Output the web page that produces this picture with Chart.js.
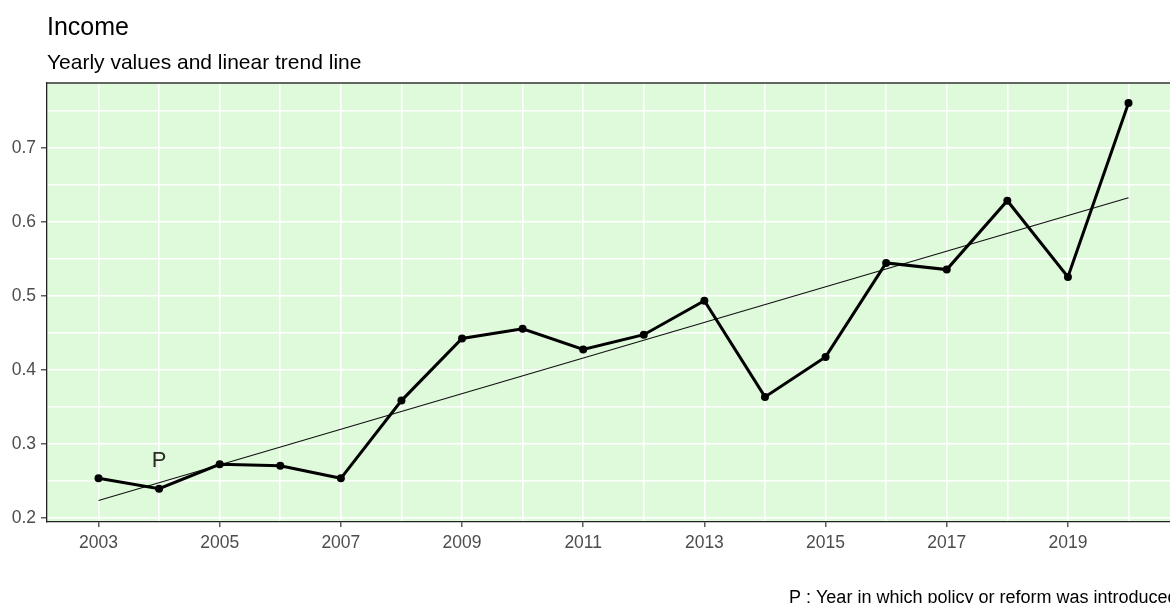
<!DOCTYPE html>
<html>
<head>
<meta charset="utf-8">
<script src="https://cdn.jsdelivr.net/npm/chart.js"></script>
<style>
  html, body { margin: 0; padding: 0; background: #fff; overflow: hidden; }
  #wrap { width: 1170px; height: 603px; overflow: hidden; position: relative; }
  #wrap canvas { position: absolute; left: 0; top: 0; }
</style>
</head>
<body>
<div id="wrap"><canvas id="income-chart" width="1184" height="612"></canvas></div>
<script>
// yearly income values
const years = [2003, 2004, 2005, 2006, 2007, 2008, 2009, 2010, 2011, 2012, 2013, 2014, 2015, 2016, 2017, 2018, 2019, 2020];
const income = [0.254, 0.240, 0.273, 0.271, 0.254, 0.359, 0.443, 0.456, 0.428, 0.448, 0.494, 0.364, 0.418, 0.545, 0.536, 0.629, 0.526, 0.761];

// fitted linear trend, start and end
const trendYears = [2003, 2020];
const trendValues = [0.224, 0.633];

// policy / reform markers
const policyYears = [2004];
const policyLabels = ['P'];
const policyLabelY = [0.278];

// axis ticks
const xLabelYears = [2003, 2005, 2007, 2009, 2011, 2013, 2015, 2017, 2019];
const xGridYears = [2003, 2004, 2005, 2006, 2007, 2008, 2009, 2010, 2011, 2012, 2013, 2014, 2015, 2016, 2017, 2018, 2019, 2020];
const yLabelValues = [0.2, 0.3, 0.4, 0.5, 0.6, 0.7];
const yGridValues = [0.2, 0.25, 0.3, 0.35, 0.4, 0.45, 0.5, 0.55, 0.6, 0.65, 0.7, 0.75];

const FONT = '"Liberation Sans", Arial, sans-serif';
const isLabelX = v => xLabelYears.includes(v);
const isLabelY = v => yLabelValues.some(t => Math.abs(t - v) < 1e-9);

const panelPlugin = {
  id: 'panel',
  beforeDraw(chart) {
    const { ctx, chartArea: a } = chart;
    ctx.save();
    ctx.fillStyle = '#DFFADB';
    ctx.fillRect(a.left, a.top, a.right - a.left, a.bottom - a.top);
    ctx.restore();
  },
  afterDraw(chart) {
    const { ctx, chartArea: a, scales } = chart;
    ctx.save();
    // top border of the panel
    ctx.strokeStyle = '#333';
    ctx.lineWidth = 1.3;
    ctx.beginPath();
    ctx.moveTo(a.left, a.top);
    ctx.lineTo(a.right, a.top);
    ctx.stroke();

    // policy markers
    ctx.fillStyle = '#2b2b20';
    ctx.font = '22px ' + FONT;
    ctx.textAlign = 'center';
    ctx.textBaseline = 'middle';
    policyYears.forEach((yr, i) => {
      ctx.fillText(policyLabels[i], scales.x.getPixelForValue(yr), scales.y.getPixelForValue(policyLabelY[i]));
    });

    // titles
    ctx.textAlign = 'left';
    ctx.textBaseline = 'alphabetic';
    ctx.fillStyle = '#000';
    ctx.font = '25px ' + FONT;
    ctx.fillText('Income', 47, 35);
    ctx.font = '21px ' + FONT;
    ctx.fillText('Yearly values and linear trend line', 47, 69);

    // caption
    ctx.font = '18px ' + FONT;
    ctx.fillText('P : Year in which policy or reform was introduced', 789, 603);
    ctx.restore();
  }
};

new Chart(document.getElementById('income-chart'), {
  type: 'line',
  data: {
    datasets: [
      {
        label: 'Income',
        data: years.map((y, i) => ({ x: y, y: income[i] })),
        borderColor: '#000',
        backgroundColor: '#000',
        borderWidth: 3,
        pointRadius: 4,
        pointBorderWidth: 0,
        tension: 0
      },
      {
        label: 'Trend',
        data: trendYears.map((y, i) => ({ x: y, y: trendValues[i] })),
        borderColor: '#111',
        borderWidth: 1.2,
        pointRadius: 0,
        tension: 0
      }
    ]
  },
  options: {
    responsive: false,
    animation: false,
    layout: { padding: { top: 83, right: 4, left: 0, bottom: 0 } },
    plugins: { legend: { display: false }, tooltip: { enabled: false } },
    scales: {
      x: {
        type: 'linear',
        min: 2002.15,
        max: 2020.85,
        afterBuildTicks: s => { s.ticks = xGridYears.map(v => ({ value: v })); },
        afterFit: s => { s.height = 90; },
        grid: {
          color: '#fff',
          lineWidth: 1.6,
          tickLength: 5,
          tickColor: c => (c.tick && isLabelX(c.tick.value)) ? '#333' : 'rgba(0,0,0,0)',
          tickWidth: 1.2
        },
        border: { color: '#222', width: 1.3 },
        ticks: {
          autoSkip: false,
          maxRotation: 0,
          padding: 6,
          color: '#4D4D4D',
          font: { family: FONT, size: 17.5 },
          callback: v => isLabelX(v) ? String(v) : ''
        }
      },
      y: {
        type: 'linear',
        min: 0.195,
        max: 0.788,
        afterBuildTicks: s => { s.ticks = yGridValues.map(v => ({ value: v })); },
        afterFit: s => { s.width = 47; },
        grid: {
          color: '#fff',
          lineWidth: 1.6,
          tickLength: 6,
          tickColor: c => (c.tick && isLabelY(c.tick.value)) ? '#333' : 'rgba(0,0,0,0)',
          tickWidth: 1.2
        },
        border: { color: '#222', width: 1.3 },
        ticks: {
          autoSkip: false,
          padding: 5,
          color: '#4D4D4D',
          font: { family: FONT, size: 17.5 },
          callback: v => isLabelY(v) ? v.toFixed(1) : ''
        }
      }
    }
  },
  plugins: [panelPlugin]
});
</script>
</body>
</html>
